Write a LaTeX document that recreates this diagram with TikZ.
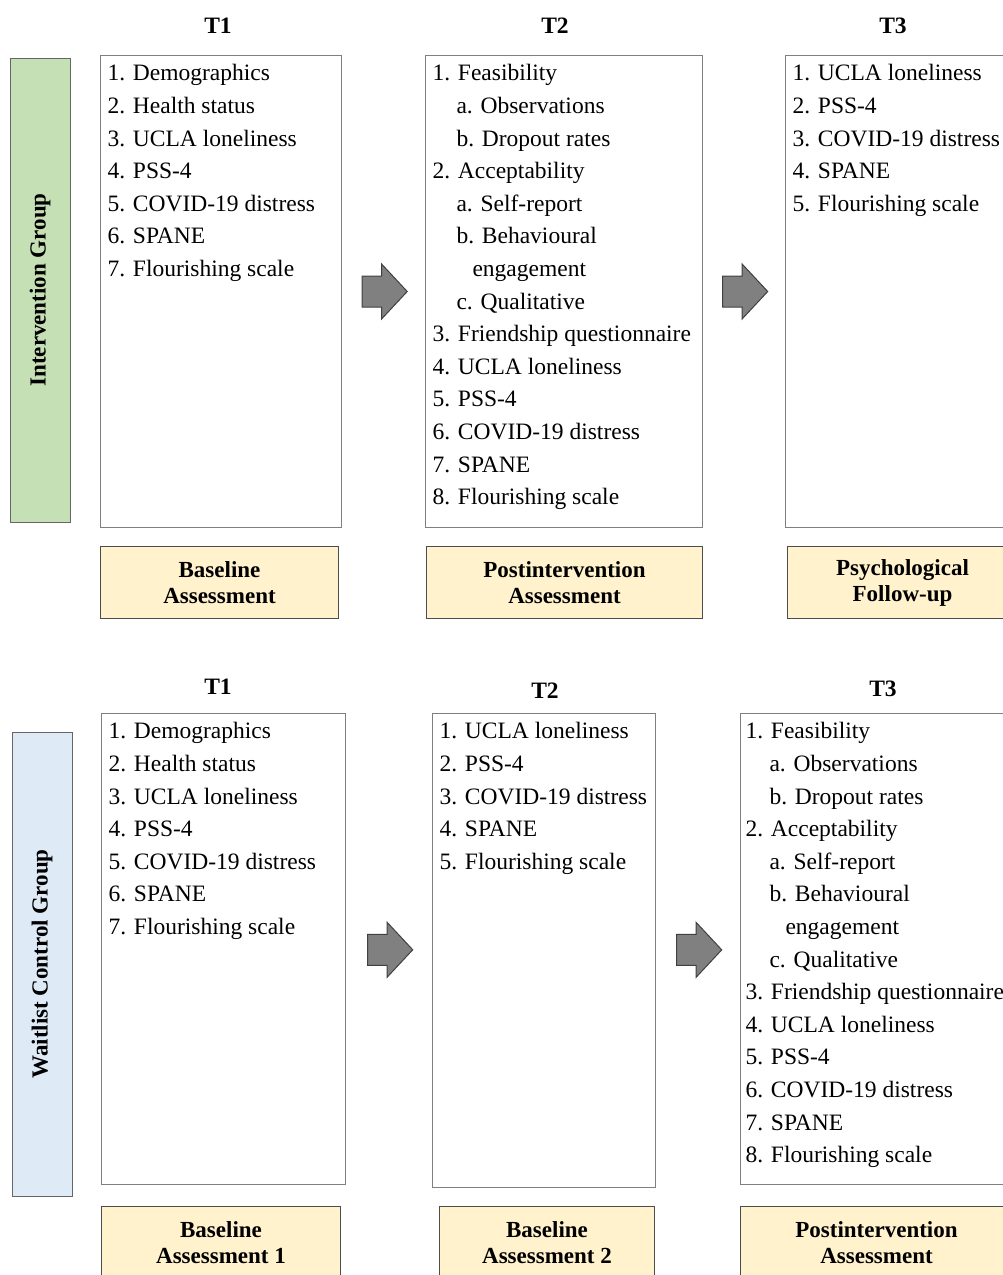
\documentclass[tikz,border=0pt]{standalone}
\usepackage{fontspec}
\setmainfont{Liberation Serif}
\usetikzlibrary{positioning,shapes.arrows}

\definecolor{groupgreen}{HTML}{C5E0B4}
\definecolor{groupblue}{HTML}{DEEBF7}
\definecolor{assessyellow}{HTML}{FFF2CC}
\definecolor{edgegray}{HTML}{7F7F7F}

% fixed-height column of measures, text from the top
\newcommand{\itemcol}[3]{\parbox[t][#1][t]{#2}{\raggedright #3}}
\newcommand{\subline}[1]{\hspace*{24pt}#1}
\newcommand{\wrapline}[1]{\hspace*{40pt}#1}

\begin{document}
\begin{tikzpicture}[
    x=1pt,
    y=-1pt,
    listbox/.style={
        draw=edgegray,
        line width=1pt,
        fill=white,
        anchor=north west,
        inner xsep=7pt,
        inner ysep=9pt,
        font=\fontsize{23.5}{32.6}\selectfont
    },
    assessbox/.style={
        draw=black!70,
        line width=1pt,
        fill=assessyellow,
        align=center,
        anchor=north west,
        inner sep=0pt,
        minimum height=72pt,
        font=\bfseries\fontsize{23}{26}\selectfont
    },
    groupbar/.style={
        draw=black!60,
        line width=1pt,
        rotate=90,
        minimum width=464pt,
        minimum height=60pt,
        inner sep=0pt,
        font=\bfseries\fontsize{23}{26}\selectfont
    },
    timelabel/.style={
        anchor=base,
        inner sep=0pt,
        font=\bfseries\fontsize{23.5}{28}\selectfont
    },
    flowarrow/.style={
        single arrow,
        draw=black!75,
        fill=black!50,
        line width=1pt,
        inner xsep=0pt,
        inner ysep=15pt,
        minimum height=45pt,
        single arrow head extend=12pt,
        single arrow tip angle=94,
        single arrow head indent=0pt
    }
]

\clip (0,0) rectangle (1003,1275);
\useasboundingbox (0,0) rectangle (1003,1275);

% Intervention group
\node[groupbar, fill=groupgreen] (introbar) at (40,290) {Intervention Group};

\node[listbox] (introT1) at (100,55) {\itemcol{454pt}{227pt}{
    1. Demographics\\
    2. Health status\\
    3. UCLA loneliness\\
    4. PSS-4\\
    5. COVID-19 distress\\
    6. SPANE\\
    7. Flourishing scale}};

\node[listbox] (introT2) at (425,55) {\itemcol{454pt}{263pt}{
    1. Feasibility\\
    \subline{a. Observations}\\
    \subline{b. Dropout rates}\\
    2. Acceptability\\
    \subline{a. Self-report}\\
    \subline{b. Behavioural}\\
    \wrapline{engagement}\\
    \subline{c. Qualitative}\\
    3. Friendship questionnaire\\
    4. UCLA loneliness\\
    5. PSS-4\\
    6. COVID-19 distress\\
    7. SPANE\\
    8. Flourishing scale}};

\node[listbox] (introT3) at (785,55) {\itemcol{454pt}{230pt}{
    1. UCLA loneliness\\
    2. PSS-4\\
    3. COVID-19 distress\\
    4. SPANE\\
    5. Flourishing scale}};

\node[timelabel] (introT1label) at (218,33) {T1};
\node[timelabel] (introT2label) at (555,33) {T2};
\node[timelabel] (introT3label) at (893,33) {T3};

\node[assessbox, minimum width=238pt, below=18pt of introT1.south west, anchor=north west] (introbase) {Baseline\\Assessment};
\node[assessbox, minimum width=276pt, below=18pt of introT2.south west, anchor=north west, xshift=1pt] (intropost) {Postintervention\\Assessment};
\node[assessbox, minimum width=230pt, below=18pt of introT3.south west, anchor=north west, xshift=2pt] (introfollow) {Psychological\\Follow-up};

\path (introT1) -- (introT2) node[midway, flowarrow, xshift=-6pt] (introarrowA) {};
\path (introT2) -- (introT3) node[midway, flowarrow, xshift=-6pt] (introarrowB) {};

% Waitlist control group
\node[groupbar, fill=groupblue] (waitbar) at (42,964) {Waitlist Control Group};

\node[listbox] (waitT1) at (101,713) {\itemcol{453pt}{230pt}{
    1. Demographics\\
    2. Health status\\
    3. UCLA loneliness\\
    4. PSS-4\\
    5. COVID-19 distress\\
    6. SPANE\\
    7. Flourishing scale}};

\node[listbox] (waitT2) at (432,713) {\itemcol{456pt}{209pt}{
    1. UCLA loneliness\\
    2. PSS-4\\
    3. COVID-19 distress\\
    4. SPANE\\
    5. Flourishing scale}};

\node[listbox, inner xsep=5pt] (waitT3) at (740,713) {\itemcol{453pt}{280pt}{
    1. Feasibility\\
    \subline{a. Observations}\\
    \subline{b. Dropout rates}\\
    2. Acceptability\\
    \subline{a. Self-report}\\
    \subline{b. Behavioural}\\
    \wrapline{engagement}\\
    \subline{c. Qualitative}\\
    3. Friendship questionnaire\\
    4. UCLA loneliness\\
    5. PSS-4\\
    6. COVID-19 distress\\
    7. SPANE\\
    8. Flourishing scale}};

\node[timelabel] (waitT1label) at (218,694) {T1};
\node[timelabel] (waitT2label) at (545,698) {T2};
\node[timelabel] (waitT3label) at (883,696) {T3};

\node[assessbox, minimum width=239pt, below=21pt of waitT1.south west, anchor=north west] (waitbaseA) {Baseline\\Assessment 1};
\node[assessbox, minimum width=215pt, below=18pt of waitT2.south west, anchor=north west, xshift=7pt] (waitbaseB) {Baseline\\Assessment 2};
\node[assessbox, minimum width=272pt, below=21pt of waitT3.south west, anchor=north west] (waitpost) {Postintervention\\Assessment};

\path (waitT1) -- (waitT2) node[midway, flowarrow, xshift=-6pt] (waitarrowA) {};
\path (waitT2) -- (waitT3) node[midway, flowarrow, xshift=-6pt] (waitarrowB) {};

\end{tikzpicture}
\end{document}
